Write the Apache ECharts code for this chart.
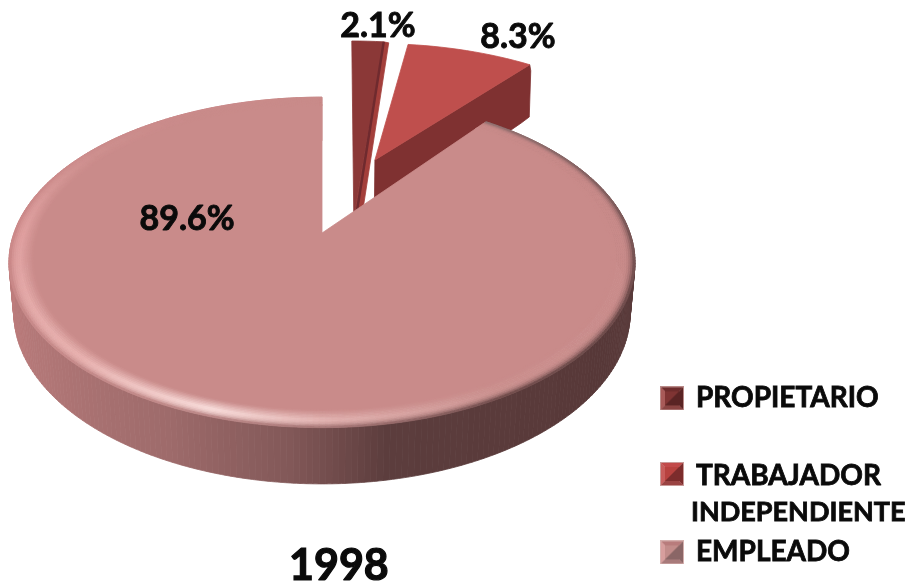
<!DOCTYPE html>
<html><head><meta charset="utf-8">
<style>html,body{margin:0;padding:0;background:#fff}#c{width:911px;height:584px}</style>
<script src="https://cdn.jsdelivr.net/npm/echarts@6/dist/echarts.min.js"></script>
</head><body><div id="c"></div>
<script>
const categories = ['PROPIETARIO', 'TRABAJADOR INDEPENDIENTE', 'EMPLEADO'];
const shares = [2.1, 8.3, 89.6];
const shareLabels = ['2.1%', '8.3%', '89.6%'];
const chartTitle = '1998';

// perspective disc
const P = {cx: 322, cy: 233, A: 160, B: 308, k: 0.178, m: 0.015, H: 50};
const FONT = 'Lato, "Open Sans", sans-serif';
function project(u, v, depth) {
  const w = 1 + P.k * v + (depth ? P.m : 0);
  return [P.cx + P.B * u / w, P.cy + (-P.A * v + (depth || 0)) / w];
}
const dir = t => [Math.sin(t * Math.PI / 180), Math.cos(t * Math.PI / 180)];
function hex(c) { return [1, 3, 5].map(i => parseInt(c.substr(i, 2), 16)); }
function mix(a, b, f) {
  const x = hex(a), y = hex(b);
  return '#' + x.map((q, i) => Math.round(q + (y[i] - q) * f).toString(16).padStart(2, '0')).join('');
}
function ramp(table, t) {
  for (let i = 1; i < table.length; i++) {
    if (t <= table[i][0]) {
      const f = (t - table[i - 1][0]) / (table[i][0] - table[i - 1][0]);
      return mix(table[i - 1][1], table[i][1], Math.max(0, f));
    }
  }
  return table[table.length - 1][1];
}
const FACE = '#c98b8a';
const wallRamp = [[0,'#6a4a4a'],[90,'#5c3e3e'],[125,'#573838'],[170,'#5c3d3d'],[185,'#825858'],[205,'#9e6b6b'],[235,'#b27777'],[270,'#c27e7e'],[360,'#c27e7e']];
const glowRamp = [[0,'#c98b8a'],[115,'#c98b8a'],[150,'#ca908e'],[178,'#dfaeac'],[198,'#f7dad8'],[225,'#e7b0ae'],[270,'#dfa0a0'],[300,'#cf9190'],[330,'#c98b8a'],[360,'#c98b8a']];
const edgeRamp = [[0,'#8a6c6c'],[40,'#8a6c6c'],[90,'#6a4c4c'],[120,'#583a3a'],[150,'#5e3e3e'],[178,'#9a6a6a'],[200,'#b07676'],[225,'#bd8080'],[270,'#c88484'],[300,'#cc8c8c'],[360,'#c98b8a']];

const sliceStyle = [
  {explode:[0.123,0.526], apex:[0.105,0.1],   top:'#8b3837', wall:'#a33f3b', seam:'#6f2a2e', shift:[5,1], label:[378,26]},
  {explode:[0.222,0.5],   apex:[0.187,0.4966],top:'#bf4f4d', wall:'#7f3131', depth:70, label:[518,37]},
  {label:[187,219]}
];
const colors = ['#8b3837', '#bf4f4d', '#c98b8a'];

const poly = (points, fill) => ({type:'polygon', silent:true, shape:{points}, style:{fill, stroke:fill, lineWidth:0.8}});
const labelEl = (i) => ({type:'text', silent:true, style:{
  x: sliceStyle[i].label[0], y: sliceStyle[i].label[1], text: shareLabels[i],
  fontFamily: FONT, fontWeight: 'bold', fontSize: 34, fill:'#0a0a0a', stroke:'#0a0a0a', lineWidth:0.9,
  align:'center', verticalAlign:'middle'}});

function arc(t0, t1, r, off, depth, stepSize) {
  const n = Math.max(2, Math.ceil((t1 - t0) / (stepSize || 2)));
  const out = [];
  for (let i = 0; i <= n; i++) {
    const d = dir(t0 + (t1 - t0) * i / n);
    out.push(project(off[0] + r * d[0], off[1] + r * d[1], depth));
  }
  return out;
}
function renderSlice(i, t0, t1) {
  const s = sliceStyle[i], ch = [];
  if (s.explode) {
    const ap = project(s.apex[0], s.apex[1]);
    const rim = arc(t0, t1, 1, s.explode);
    if (s.depth) {
      const apB = project(s.apex[0], s.apex[1], s.depth);
      const rimB = arc(t0, t1, 1, s.explode, s.depth);
      const last = rim[rim.length - 1], lastB = rimB[rimB.length - 1];
      ch.push(poly([ap, last, [last[0] + 1, last[1] + 6], [lastB[0] + 2, lastB[1] - 6], [lastB[0] - 6, lastB[1]], apB], s.wall));
    }
    if (s.shift) {
      const c1 = rim[rim.length - 1];
      ch.push(poly([c1, [c1[0] + s.shift[0], c1[1] + s.shift[1]], [ap[0] + s.shift[0] + 3, ap[1]], ap], s.wall));
    }
    ch.push(poly([ap].concat(rim), s.top));
    if (s.seam) {
      const c1 = rim[rim.length - 1];
      ch.push({type:'line', silent:true, shape:{x1:c1[0], y1:c1[1], x2:ap[0] + 3, y2:ap[1] - 5}, style:{stroke:s.seam, lineWidth:2.5}});
    }
  } else {
    const step = 1, off = [0, 0];
    for (let t = t0; t < t1; t += step) {
      const e = Math.min(t + step, t1);
      const a = arc(t, e, 1, off, 0, 1), b = arc(t, e, 1, off, P.H, 1);
      ch.push(poly(a.concat(b.reverse()), ramp(wallRamp, (t + e) / 2)));
    }
    ch.push(poly([project(0, 0)].concat(arc(t0, t1, 0.94, off)), FACE));
    const rings = 12, inner = 0.925;
    for (let j = 0; j < rings; j++) {
      const r0 = inner + (1 - inner) * j / rings, r1 = inner + (1 - inner) * (j + 1) / rings;
      const f = (j + 0.5) / rings;
      for (let t = t0; t < t1; t += step) {
        const e = Math.min(t + step, t1), m = (t + e) / 2;
        const glow = ramp(glowRamp, m), edge = ramp(edgeRamp, m);
        const c = f < 0.55 ? mix(FACE, glow, f / 0.55) : mix(glow, edge, Math.pow((f - 0.55) / 0.45, 2.2));
        ch.push(poly(arc(t, e, r0, off, 0, 1).concat(arc(t, e, r1, off, 0, 1).reverse()), c));
      }
    }
  }
  ch.push(labelEl(i));
  return {type:'group', children: ch};
}

// bevelled legend markers, painted to an image
const markerTones = [
  {top:'#6e2c2c', left:'#a85a58', right:'#5a2424', bottom:'#8a4442', core:'#7f3433', rim:'#b98a88'},
  {top:'#c24a4a', left:'#c85c5a', right:'#7c2c2c', bottom:'#9a4342', core:'#b8423f', rim:'#c89a98'},
  {top:'#b87c7c', left:'#d79e9d', right:'#8a6666', bottom:'#a87a7a', core:'#c28c8a', rim:'#d5b0ae'}
];
function marker(i, w, h, top) {
  const c = document.createElement('canvas'); c.width = w; c.height = h;
  const g = c.getContext('2d'), t = markerTones[i], s = 24, b = 5;
  const tri = (pts, col) => { g.fillStyle = col; g.beginPath(); pts.forEach((p, n) => n ? g.lineTo(p[0], p[1] + top) : g.moveTo(p[0], p[1] + top)); g.closePath(); g.fill(); };
  tri([[0,0],[s,0],[s,s],[0,s]], t.rim);
  tri([[1,1],[s-1,1],[s-b,b],[b,b]], t.top);
  tri([[1,1],[b,b],[b,s-b],[1,s-1]], t.left);
  tri([[s-1,1],[s-1,s-1],[s-b,s-b],[s-b,b]], t.right);
  tri([[1,s-1],[b,s-b],[s-b,s-b],[s-1,s-1]], t.bottom);
  tri([[b,b],[s-b,b],[s-b,s-b],[b,s-b]], t.core);
  tri([[b,s-b],[s-b,b],[s-b,s-b]], t.right);
  return 'image://' + c.toDataURL();
}

const cum = [0]; shares.forEach(v => cum.push(cum[cum.length - 1] + v));
const total = cum[cum.length - 1];
const legendText = {fontFamily: FONT, fontWeight:'bold', fontSize: 28, color:'#0a0a0a', textBorderColor:'#0a0a0a', textBorderWidth:0.8};
const option = {
  animation: false,
  backgroundColor: '#fff',
  color: colors,
  title: {text: chartTitle, left: 284, top: 540, textStyle: {fontFamily: FONT, fontWeight:'bold', fontSize: 43, color:'#0a0a0a', textBorderColor:'#0a0a0a', textBorderWidth:1.2}},
  legend: [
    {data:[{name:categories[0], icon:marker(0,31,24,0)}], left:660, top:384, itemWidth:31, itemHeight:24, selectedMode:false, textStyle:legendText, padding:0},
    {data:[{name:categories[1], icon:marker(1,26,74,5)}], left:660, top:457, itemWidth:26, itemHeight:74, selectedMode:false, padding:0,
      formatter: n => { const p = n.split(' '); return '{a|' + p[0] + '}\n{b|' + p[1] + '}'; },
      textStyle: Object.assign({}, legendText, {lineHeight:37, rich:{
        a:Object.assign({}, legendText, {lineHeight:37, padding:[0,0,0,5]}),
        b:Object.assign({}, legendText, {lineHeight:37, fontSize:27})}})},
    {data:[{name:categories[2], icon:marker(2,31,24,0)}], left:660, top:538, itemWidth:31, itemHeight:24, selectedMode:false, textStyle:legendText, padding:0}
  ],
  series: categories.map((name, i) => ({
    type:'custom', name, coordinateSystem:'none', silent:true, z:i,
    data:[[shares[i], cum[i]]],
    renderItem:(params, api) => {
      const t0 = api.value(1) / total * 360, t1 = t0 + api.value(0) / total * 360;
      return renderSlice(i, t0, t1);
    }
  }))
};
const chart = echarts.init(document.getElementById('c'), null, {renderer:'canvas'});
chart.setOption(option);
</script></body></html>
